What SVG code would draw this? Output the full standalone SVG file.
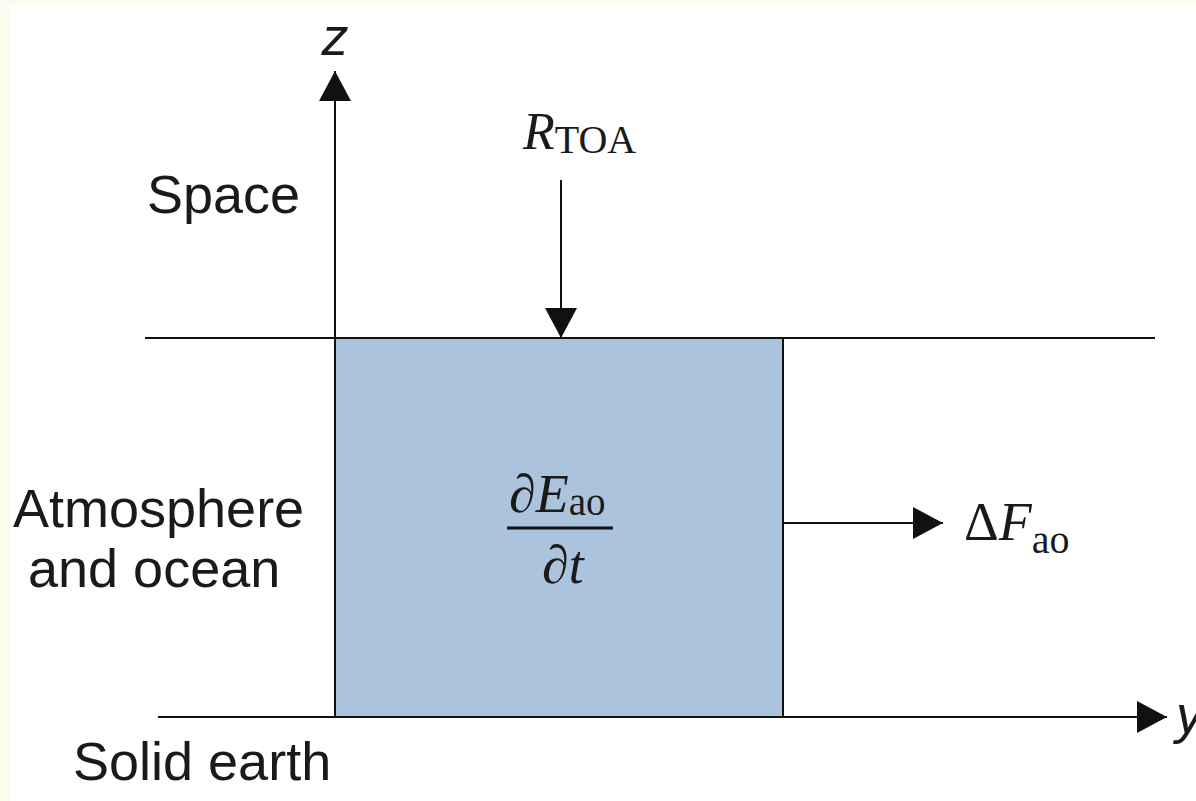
<svg xmlns="http://www.w3.org/2000/svg" width="1196" height="801" viewBox="0 0 1196 801">
<style>
.ax{stroke:#111;stroke-width:2;fill:none}
.lbl{font-family:"Liberation Sans",Arial,sans-serif;font-size:54px;fill:#1a1a1a}
.m{font-family:"Liberation Serif","Times New Roman",serif;fill:#1a1a1a}
.it{font-style:italic}
</style>
<defs>
<marker id="ah" viewBox="0 0 30 32" refX="30" refY="16" markerWidth="30" markerHeight="32" markerUnits="userSpaceOnUse" orient="auto">
<path d="M0,0 L30,16 L0,32 Z" fill="#111"/>
</marker>
</defs>
<rect x="0" y="0" width="1196" height="801" fill="#fafcef"/>
<rect x="11" y="5" width="1185" height="796" fill="#ffffff"/>
<g id="box">
<rect x="335" y="338" width="448" height="379" fill="#abc3dd" stroke="#111" stroke-width="2"/>
<text class="m" x="509" y="512" font-size="54">∂<tspan class="it">E</tspan><tspan font-size="39" dy="3">ao</tspan></text>
<line x1="507" y1="528" x2="613" y2="528" stroke="#111" stroke-width="3"/>
<text class="m" x="542" y="583" font-size="54">∂<tspan class="it">t</tspan></text>
</g>
<g id="connectors">
<line class="ax" x1="145" y1="338" x2="1155" y2="338"/>
<line class="ax" x1="158" y1="717" x2="1167" y2="717" marker-end="url(#ah)"/>
<line class="ax" x1="335" y1="717" x2="335" y2="71" marker-end="url(#ah)"/>
<line class="ax" x1="561" y1="180" x2="561" y2="338" marker-end="url(#ah)"/>
<line class="ax" x1="783" y1="523" x2="943" y2="523" marker-end="url(#ah)"/>
</g>
<g id="labels">
<text class="lbl it" x="335" y="55" font-size="38" text-anchor="middle">z</text>
<text class="lbl it" x="1176" y="733" font-size="40">y</text>
<text class="m" x="523" y="149" font-size="52"><tspan class="it">R</tspan><tspan font-size="40" dy="4">TOA</tspan></text>
<text class="m" x="964" y="540" font-size="54">Δ<tspan class="it">F</tspan><tspan font-size="40" dy="13">ao</tspan></text>
<text class="lbl" x="147" y="213">Space</text>
<text class="lbl" x="13" y="527">Atmosphere</text>
<text class="lbl" x="28" y="587">and ocean</text>
<text class="lbl" x="73" y="780">Solid earth</text>
</g>
</svg>
